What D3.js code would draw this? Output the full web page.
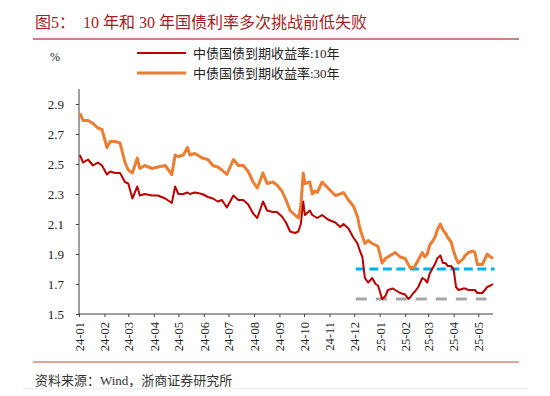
<!DOCTYPE html>
<html lang="zh">
<head>
<meta charset="UTF-8">
<title>图5</title>
<style>
  body { margin: 0; background: #fff; }
  svg { display: block; font-family: "Liberation Serif", "Noto Sans CJK SC", serif; }
  .axis path, .axis line { stroke: #404040; }
  .axis text { fill: #222; font-size: 13px; font-family: "Liberation Serif", serif; }
</style>
</head>
<body>
<svg id="chart" width="550" height="396"></svg>
<script src="https://cdn.jsdelivr.net/npm/d3@7/dist/d3.min.js"></script>
<script>
// dates of the samples
var dates = [
  "2024-01-02","2024-01-06","2024-01-12","2024-01-18","2024-01-24","2024-01-29",
  "2024-02-04","2024-02-08","2024-02-14","2024-02-20","2024-02-26","2024-03-01",
  "2024-03-06","2024-03-12","2024-03-15","2024-03-21","2024-03-30","2024-04-06",
  "2024-04-15","2024-04-23","2024-04-27","2024-05-01","2024-05-07","2024-05-12",
  "2024-05-15","2024-05-21","2024-05-30","2024-06-06","2024-06-12","2024-06-18",
  "2024-06-23","2024-06-29","2024-07-07","2024-07-13","2024-07-19","2024-07-25",
  "2024-07-31","2024-08-05","2024-08-12","2024-08-17","2024-08-24","2024-08-29",
  "2024-09-04","2024-09-09","2024-09-14","2024-09-20","2024-09-24","2024-09-27",
  "2024-09-30","2024-10-02","2024-10-08","2024-10-11","2024-10-14","2024-10-17",
  "2024-10-23","2024-10-30","2024-11-08","2024-11-14","2024-11-18","2024-11-24",
  "2024-11-30","2024-12-05","2024-12-08","2024-12-11","2024-12-14","2024-12-18",
  "2024-12-23","2024-12-27","2024-12-30","2025-01-04","2025-01-08","2025-01-11",
  "2025-01-17","2025-01-20","2025-01-26","2025-02-01","2025-02-05","2025-02-07",
  "2025-02-11","2025-02-13","2025-02-17","2025-02-22","2025-02-25","2025-02-28",
  "2025-03-03","2025-03-07","2025-03-10","2025-03-12","2025-03-16","2025-03-19",
  "2025-03-22","2025-03-25","2025-03-29","2025-04-01","2025-04-04","2025-04-07",
  "2025-04-13","2025-04-15","2025-04-19","2025-04-25","2025-04-27","2025-04-30",
  "2025-05-06","2025-05-12","2025-05-16","2025-05-19"
];

// 中债国债到期收益率:10年 (%)
var yield10 = [
  2.56,2.51,2.53,2.49,2.51,2.49,
  2.43,2.45,2.44,2.44,2.38,2.37,
  2.27,2.35,2.29,2.30,2.29,2.29,
  2.27,2.24,2.35,2.30,2.30,2.31,
  2.30,2.31,2.30,2.28,2.27,2.25,
  2.26,2.21,2.29,2.26,2.26,2.23,
  2.17,2.14,2.25,2.19,2.18,2.18,
  2.15,2.11,2.05,2.04,2.05,2.10,
  2.25,2.16,2.19,2.16,2.15,2.14,
  2.16,2.13,2.11,2.08,2.10,2.07,
  2.01,1.97,1.92,1.88,1.74,1.71,
  1.74,1.70,1.69,1.60,1.62,1.66,
  1.67,1.66,1.64,1.63,1.60,1.61,
  1.64,1.65,1.68,1.74,1.73,1.71,
  1.77,1.81,1.84,1.87,1.89,1.84,
  1.84,1.82,1.82,1.80,1.68,1.66,
  1.67,1.67,1.66,1.66,1.66,1.64,
  1.64,1.68,1.69,1.70
];

// 中债国债到期收益率:30年 (%)
var yield30 = [
  2.84,2.79,2.79,2.77,2.74,2.73,
  2.61,2.65,2.65,2.64,2.51,2.46,
  2.44,2.54,2.47,2.49,2.47,2.48,
  2.49,2.43,2.56,2.55,2.56,2.61,
  2.56,2.57,2.54,2.53,2.49,2.48,
  2.46,2.43,2.53,2.49,2.49,2.45,
  2.38,2.34,2.44,2.37,2.38,2.36,
  2.32,2.26,2.19,2.16,2.14,2.22,
  2.44,2.37,2.38,2.30,2.32,2.31,
  2.38,2.34,2.29,2.30,2.31,2.26,
  2.22,2.15,2.07,2.02,1.97,1.99,
  1.97,1.96,1.95,1.84,1.87,1.88,
  1.90,1.91,1.88,1.87,1.83,1.81,
  1.81,1.82,1.86,1.91,1.88,1.90,
  1.96,1.99,2.02,2.06,2.10,2.06,
  2.04,2.01,1.98,1.92,1.87,1.84,
  1.87,1.89,1.91,1.92,1.91,1.83,
  1.83,1.90,1.88,1.87
];

// previous lows drawn as dashed reference lines
var refLevels = [1.80, 1.60];
var refStart = "2024-12-03";
var refEnds = ["2025-05-21", "2025-05-11"];

var yTicks = [1.5, 1.7, 1.9, 2.1, 2.3, 2.5, 2.7, 2.9];
var seriesNames = ["中债国债到期收益率:10年", "中债国债到期收益率:30年"];
var seriesColors = ["#C00000", "#ED7D31"];
var refColors = ["#00B0F0", "#A6A6A6"];

var parse = d3.timeParse("%Y-%m-%d");
var svg = d3.select("#chart");

var plotLeft = 79, plotRight = 493, plotTop = 89, plotBottom = 314;

var x = d3.scaleTime()
  .domain([parse("2024-01-01"), parse("2025-05-19")])
  .range([plotLeft, plotRight]);

var y = d3.scaleLinear()
  .domain([1.5, 3.0])
  .range([plotBottom, plotTop]);

// title and frame lines
svg.append("text")
  .attr("x", 35).attr("y", 28)
  .attr("fill", "#A31D24")
  .style("font-size", "16px")
  .style("white-space", "pre")
  .text("图5：  10 年和 30 年国债利率多次挑战前低失败");

svg.append("line")
  .attr("x1", 33).attr("x2", 519).attr("y1", 39).attr("y2", 39)
  .attr("stroke", "#C48484").attr("stroke-width", 2);

svg.append("line")
  .attr("x1", 33).attr("x2", 519).attr("y1", 362).attr("y2", 362)
  .attr("stroke", "#D0413E").attr("stroke-width", 1);

svg.append("line")
  .attr("x1", 23).attr("x2", 528).attr("y1", 388.5).attr("y2", 388.5)
  .attr("stroke", "#eeeeee").attr("stroke-width", 1);

svg.append("text")
  .attr("x", 35).attr("y", 385)
  .attr("fill", "#333")
  .style("font-size", "13px")
  .text("资料来源：Wind，浙商证券研究所");

svg.append("text")
  .attr("x", 50).attr("y", 61)
  .attr("fill", "#222")
  .style("font-size", "12px")
  .text("%");

// legend
var legend = svg.append("g");
seriesNames.forEach(function (name, i) {
  var ly = 53 + i * 20;
  legend.append("line")
    .attr("x1", 137).attr("x2", 186).attr("y1", ly).attr("y2", ly)
    .attr("stroke", seriesColors[i]).attr("stroke-width", i == 0 ? 2 : 3);
  legend.append("text")
    .attr("x", 193).attr("y", ly + 4.5)
    .attr("fill", "#222")
    .style("font-size", "13px")
    .text(name);
});

// axes
var yAxis = svg.append("g")
  .attr("class", "axis")
  .attr("transform", "translate(" + plotLeft + ",0)")
  .call(d3.axisLeft(y).tickValues(yTicks).tickSize(3).tickPadding(12)
    .tickFormat(d3.format(".1f")));
yAxis.select(".domain").attr("d", "M0," + plotTop + "V" + plotBottom);

var xAxis = svg.append("g")
  .attr("class", "axis")
  .attr("transform", "translate(0," + plotBottom + ")")
  .call(d3.axisBottom(x).ticks(d3.timeMonth.every(1)).tickSize(3)
    .tickFormat(d3.timeFormat("%y-%m")));
xAxis.select(".domain").attr("d", "M" + plotLeft + ",0H" + plotRight);
xAxis.selectAll("text")
  .attr("transform", "rotate(-90)")
  .attr("x", -8).attr("y", 0).attr("dy", "0.35em")
  .style("text-anchor", "end")
  .style("font-size", "12.5px");

// reference dashed lines
refLevels.forEach(function (v, i) {
  svg.append("line")
    .attr("x1", x(parse(refStart))).attr("x2", x(parse(refEnds[i])))
    .attr("y1", y(v)).attr("y2", y(v))
    .attr("stroke", refColors[i]).attr("stroke-width", 3)
    .attr("stroke-dasharray", i == 0 ? "9,4.5" : "11,9");
});

// series lines
var line = d3.line()
  .x(function (d) { return x(d.date); })
  .y(function (d) { return y(d.value); });

[yield30, yield10].forEach(function (vals, k) {
  var i = k == 0 ? 1 : 0;
  var data = dates.map(function (d, j) { return { date: parse(d), value: vals[j] }; });
  svg.append("path")
    .datum(data)
    .attr("fill", "none")
    .attr("stroke", seriesColors[i])
    .attr("stroke-width", i == 0 ? 2 : 3)
    .attr("stroke-linejoin", "round")
    .attr("d", line);
});
</script>
</body>
</html>
